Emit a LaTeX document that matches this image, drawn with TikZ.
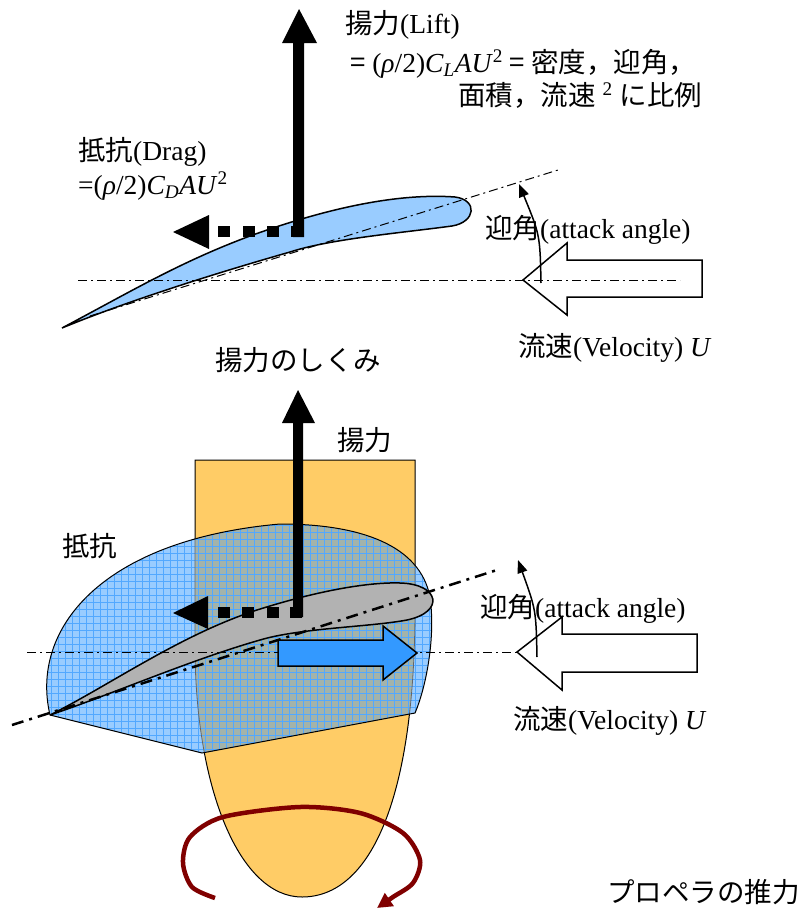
\documentclass[tikz,border=0pt]{standalone}
\usepackage{fontspec}
\setmainfont{Liberation Serif}
\newfontfamily\jp{Noto Sans CJK JP}
\usetikzlibrary{arrows.meta}
\definecolor{wingblue}{HTML}{99CCFF}
\definecolor{gridblue}{HTML}{3399FF}
\definecolor{hubyellow}{HTML}{FFCC66}
\definecolor{overlap}{HTML}{A3B3AA}
\definecolor{spinred}{HTML}{800000}
\tikzset{lbl/.style = {anchor=base west, inner sep=0, font=\fontsize{27.5}{32}\selectfont}}
\tikzset{axis/.style = {line width=1, dash pattern=on 9pt off 4pt on 2pt off 4pt}}
\tikzset{chord/.style = {line width=2.5, dash pattern=on 12pt off 6pt on 3pt off 6pt}}
\tikzset{hollow/.style = {draw, fill=white, line width=1.5, line join=miter}}
\tikzset{turn/.style = {line width=1.5, -{Triangle[length=13pt, width=10pt]}}}
\newcommand{\hubpath}{(195, 650) -- (195, 460) -- (415, 460) -- (415, 600)
  .. controls (416, 800) and (370, 897) .. (302, 897)
  .. controls (240, 897) and (196, 790) .. (195, 650) -- cycle}
\newcommand{\dragpath}{(50, 715) .. controls (30, 630) and (100, 540) .. (280, 524)
  .. controls (360, 524) and (420, 545) .. (430, 597)
  .. controls (436, 640) and (425, 690) .. (415, 713) -- (202, 753) -- cycle}

\begin{document}
\begin{tikzpicture}[x=1pt, y=-1pt]
  \useasboundingbox (0, 0) rectangle (800, 908);

  % upper sketch
  \filldraw [fill=wingblue, line width=1.5] (62, 328) .. controls (130, 292) and (180, 262) .. (250, 236)
    .. controls (330, 207) and (400, 193) .. (455, 197) .. controls (478, 200) and (476, 222) .. (452, 226)
    .. controls (400, 233) and (330, 239) .. (290, 252) .. controls (220, 272) and (130, 300) .. cycle;
  \draw [axis] (90, 316) -- (558, 170);
  \draw [hollow] (523, 280) -- (567, 243) -- (567, 260) -- (702, 260) -- (702, 297)
    -- (567, 297) -- (567, 315) -- cycle;
  \draw [axis] (78, 280) -- (680, 280);
  \draw [turn] (541, 283) .. controls (540, 235) .. (519, 184);
  \fill (293, 237) -- (293, 43) -- (282, 43) -- (299, 9) -- (317, 43) -- (304, 43) -- (304, 237) -- cycle;
  \foreach \x in {218, 243, 267, 291}
    \fill (\x, 226) rectangle +(12, 11);
  \fill (173, 232) -- (209, 215) -- (209, 249) -- cycle;

  \node [lbl] (lift) at (345, 33) {{\jp 揚力}(Lift)};
  \node [lbl] (liftrule) at (350, 72) {{\jp =} (\textit{ρ}/2)\textit{C\textsubscript{L}AU}\textsuperscript{2} {\jp = 密度，迎角，}};
  \node [lbl] (liftrule2) at (458, 105) {{\jp 面積，流速} \textsuperscript{2} {\jp に比例}};
  \node [lbl] (drag) at (78, 160) {{\jp 抵抗}(Drag)};
  \node [lbl] (dragrule) at (78, 194) {=(\textit{ρ}/2)\textit{C\textsubscript{D}AU}\textsuperscript{2}};
  \node [lbl] (aoa) at (485, 238) {{\jp 迎角}(attack angle)};
  \node [lbl] (vel) at (518, 356) {{\jp 流速}(Velocity) \textit{U}};
  \node [lbl] (title) at (215, 370) {\jp 揚力のしくみ};

  % lower sketch: blade on the hub
  \filldraw [fill=hubyellow, line width=1] \hubpath;
  \fill [wingblue] \dragpath;
  \begin{scope}
    \clip \hubpath;
    \fill [overlap] \dragpath;
  \end{scope}
  \begin{scope}
    \clip \dragpath;
    \foreach \gx in {44, 51, ..., 436}
      \draw [gridblue!85, line width=0.5] (\gx, 515) -- (\gx, 760);
    \foreach \gy in {518, 525, ..., 756}
      \draw [gridblue!85, line width=0.5] (40, \gy) -- (440, \gy);
    \draw [black!60, line width=0.8] \hubpath;
  \end{scope}
  \draw [line width=1] \dragpath;

  \filldraw [fill=black!30, line width=1.5] (50, 715) .. controls (110, 685) and (180, 635) .. (257, 610)
    .. controls (320, 590) and (370, 582) .. (400, 583) .. controls (440, 584) and (445, 612) .. (407, 620)
    .. controls (370, 627) and (300, 628) .. (260, 640) .. controls (190, 660) and (110, 695) .. cycle;
  \draw [axis] (27, 652) -- (517, 652);
  \draw [chord] (12, 725) -- (497, 570);
  \fill (293, 617) -- (293, 423) -- (282, 423) -- (298, 390) -- (315, 423) -- (303, 423) -- (303, 617) -- cycle;
  \foreach \x in {218, 242, 267, 290}
    \fill (\x, 607) rectangle +(12, 11);
  \fill (173, 613) -- (208, 596) -- (208, 629) -- cycle;
  \filldraw [fill=gridblue, line width=1.5] (278, 640) -- (383, 640) -- (383, 626) -- (417, 653)
    -- (383, 680) -- (383, 666) -- (278, 666) -- cycle;
  \draw [hollow] (517, 652) -- (562, 617) -- (562, 634) -- (697, 634) -- (697, 672)
    -- (562, 672) -- (562, 690) -- cycle;
  \draw [turn] (537, 657) .. controls (536, 610) .. (518, 560);
  \draw [spinred, line width=4.5, -{Triangle[length=15pt, width=15pt]}] plot [smooth] coordinates {(215, 898)
    (192, 887) (183, 863) (190, 837) (223, 817) (300, 807) (360, 813) (403, 833) (420, 860)
    (413, 883) (393, 897) (377, 908)};

  \node [lbl] (lift2) at (337, 450) {\jp 揚力};
  \node [lbl] (drag2) at (62, 556) {\jp 抵抗};
  \node [lbl] (aoa2) at (480, 617) {{\jp 迎角}(attack angle)};
  \node [lbl] (vel2) at (513, 729) {{\jp 流速}(Velocity) \textit{U}};
  \node [lbl] (thrust) at (607, 902) {\jp プロペラの推力};
\end{tikzpicture}
\end{document}
